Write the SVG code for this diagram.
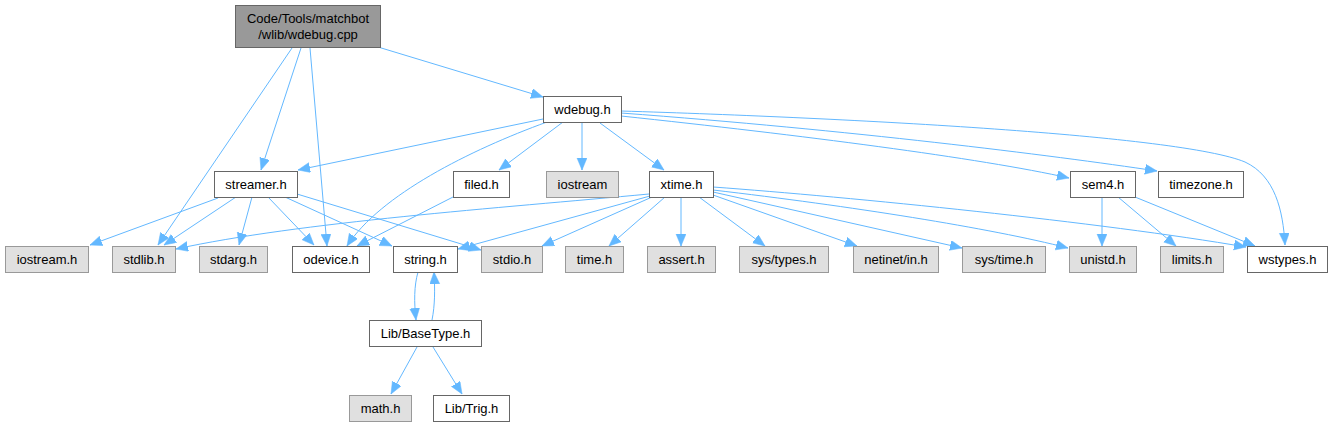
<svg xmlns="http://www.w3.org/2000/svg" width="1334" height="427" viewBox="0 0 1334 427">
<style>
.n rect{fill:#ffffff;stroke:#666666;stroke-width:1}
.g rect{fill:#e0e0e0;stroke:#999999;stroke-width:1}
.r rect{fill:#999999;stroke:#666666;stroke-width:1}
text{font-family:"Liberation Sans",Arial,sans-serif;font-size:13px;fill:#000000;text-anchor:middle}
#edges path{fill:none;stroke:#63b8ff;stroke-width:1;marker-end:url(#ah)}
</style>
<defs>
<marker id="ah" markerUnits="userSpaceOnUse" markerWidth="13" markerHeight="11" refX="12" refY="5" orient="auto">
<path d="M0,0 L12,5 L0,10 z" fill="#63b8ff" stroke="#63b8ff" stroke-width="0.5"/>
</marker>
</defs>
<rect width="1334" height="427" fill="#ffffff"/>
<g id="edges">
<path d="M378,47 L543,97"/>
<path d="M301,48 L261,170"/>
<path d="M310,48 L327,246"/>
<path d="M292,48 L158,245"/>
<path d="M543,119 L298,170"/>
<path d="M547,122 C470,150 380,195 347,246"/>
<path d="M563,122 L499,170"/>
<path d="M582,122 L582,170"/>
<path d="M600,123 L664,170"/>
<path d="M621,116 C800,135 980,158 1069,178"/>
<path d="M621,113 C850,130 1050,155 1157,171"/>
<path d="M621,111 C850,118 1180,135 1245,162 C1275,176 1283,210 1285,245"/>
<path d="M218,198 L90,245"/>
<path d="M236,197 L164,245"/>
<path d="M252,197 L239,245"/>
<path d="M268,197 L314,245"/>
<path d="M285,197 L392,246"/>
<path d="M297,194 L481,250"/>
<path d="M453,197 L357,246"/>
<path d="M649,194 C500,208 300,222 176,249"/>
<path d="M650,196 L458,249"/>
<path d="M652,197 L542,246"/>
<path d="M665,197 L609,246"/>
<path d="M681,197 L681,246"/>
<path d="M699,197 L765,246"/>
<path d="M713,195 L857,246"/>
<path d="M713,192 L962,248"/>
<path d="M713,190 C850,206 990,228 1068,248"/>
<path d="M713,187 C850,197 1100,222 1246,247"/>
<path d="M1102,197 L1102,246"/>
<path d="M1118,197 L1176,246"/>
<path d="M1135,197 L1255,246"/>
<path d="M418,272 C414,286 414,302 416,320"/>
<path d="M432,320 C435,305 435,290 434,272"/>
<path d="M417,347 L391,394"/>
<path d="M433,347 L462,394"/>
</g>
<g id="node-root" class="r"><rect x="235.5" y="5.5" width="145" height="42"/><text x="308" y="23">Code/Tools/matchbot</text><text x="308" y="39">/wlib/wdebug.cpp</text></g>
<g id="node-wdebug" class="n"><rect x="543.5" y="96.5" width="78" height="26"/><text x="582.5" y="114">wdebug.h</text></g>
<g id="node-streamer" class="n"><rect x="214.5" y="171.5" width="83" height="26"/><text x="256" y="189">streamer.h</text></g>
<g id="node-filed" class="n"><rect x="453.5" y="171.5" width="56" height="26"/><text x="481.5" y="189">filed.h</text></g>
<g id="node-iostream" class="g"><rect x="546.5" y="171.5" width="72" height="26"/><text x="582.5" y="189">iostream</text></g>
<g id="node-xtime" class="n"><rect x="649.5" y="171.5" width="64" height="26"/><text x="681.5" y="189">xtime.h</text></g>
<g id="node-sem4" class="n"><rect x="1070.5" y="171.5" width="65" height="26"/><text x="1103" y="189">sem4.h</text></g>
<g id="node-timezone" class="n"><rect x="1158.5" y="171.5" width="85" height="26"/><text x="1201" y="189">timezone.h</text></g>
<g id="node-iostreamh" class="g"><rect x="5.5" y="246.5" width="83" height="26"/><text x="47" y="264">iostream.h</text></g>
<g id="node-stdlib" class="g"><rect x="112.5" y="246.5" width="63" height="26"/><text x="144" y="264">stdlib.h</text></g>
<g id="node-stdarg" class="g"><rect x="199.5" y="246.5" width="68" height="26"/><text x="233.5" y="264">stdarg.h</text></g>
<g id="node-odevice" class="n"><rect x="292.5" y="246.5" width="77" height="26"/><text x="331" y="264">odevice.h</text></g>
<g id="node-string" class="n"><rect x="393.5" y="246.5" width="64" height="26"/><text x="425.5" y="264">string.h</text></g>
<g id="node-stdio" class="g"><rect x="481.5" y="246.5" width="61" height="26"/><text x="512" y="264">stdio.h</text></g>
<g id="node-time" class="g"><rect x="565.5" y="246.5" width="58" height="26"/><text x="594.5" y="264">time.h</text></g>
<g id="node-assert" class="g"><rect x="647.5" y="246.5" width="68" height="26"/><text x="681.5" y="264">assert.h</text></g>
<g id="node-systypes" class="g"><rect x="739.5" y="246.5" width="89" height="26"/><text x="784" y="264">sys/types.h</text></g>
<g id="node-netinet" class="g"><rect x="853.5" y="246.5" width="85" height="26"/><text x="896" y="264">netinet/in.h</text></g>
<g id="node-systime" class="g"><rect x="962.5" y="246.5" width="83" height="26"/><text x="1004" y="264">sys/time.h</text></g>
<g id="node-unistd" class="g"><rect x="1069.5" y="246.5" width="67" height="26"/><text x="1103" y="264">unistd.h</text></g>
<g id="node-limits" class="g"><rect x="1160.5" y="246.5" width="63" height="26"/><text x="1192" y="264">limits.h</text></g>
<g id="node-wstypes" class="n"><rect x="1247.5" y="246.5" width="80" height="26"/><text x="1287.5" y="264">wstypes.h</text></g>
<g id="node-basetype" class="n"><rect x="369.5" y="320.5" width="112" height="26"/><text x="425.5" y="338">Lib/BaseType.h</text></g>
<g id="node-math" class="g"><rect x="349.5" y="395.5" width="62" height="26"/><text x="380.5" y="413">math.h</text></g>
<g id="node-trig" class="n"><rect x="433.5" y="395.5" width="76" height="26"/><text x="471.5" y="413">Lib/Trig.h</text></g>
</svg>
